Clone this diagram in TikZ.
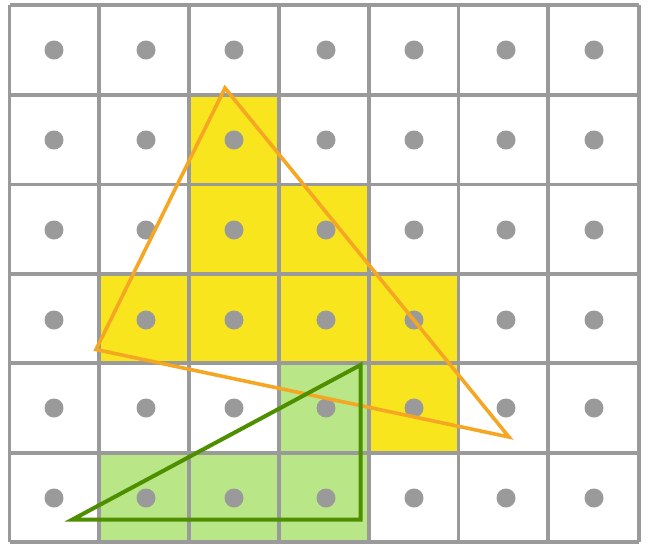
\documentclass[tikz,border=0pt]{standalone}
\usepackage{tikz}
\definecolor{gridgray}{HTML}{9A9A9A}
\definecolor{cellyellow}{HTML}{F8E51E}
\definecolor{cellgreen}{HTML}{B9E787}
\definecolor{triorange}{HTML}{F5A623}
\definecolor{trigreen}{HTML}{4E8F00}
\tikzset{
  gridline/.style={draw=gridgray, line width=3.8pt},
  dotmark/.style={fill=gridgray},
  yellowcell/.style={fill=cellyellow},
  greencell/.style={fill=cellgreen},
  orangetri/.style={draw=triorange, line width=3.6pt, line join=miter},
  greentri/.style={draw=trigreen, line width=4pt, line join=miter},
}
\begin{document}
\begin{tikzpicture}[x=1pt,y=-1pt]
\useasboundingbox (0,0) rectangle (651,550);
\fill[white] (0,0) rectangle (651,550);
\def\XA{9.5}\def\XB{98.7}\def\XC{188.7}\def\XD{278.8}\def\XE{368.7}\def\XF{458.4}\def\XG{548.3}\def\XH{638.7}
\def\YA{5.3}\def\YB{95}\def\YC{184.5}\def\YD{274}\def\YE{363.3}\def\YF{452.7}\def\YG{542.3}
% yellow cells
\path[yellowcell] (\XC,\YB) rectangle (\XD,\YC);
\path[yellowcell] (\XC,\YC) rectangle (\XE,\YD);
\path[yellowcell] (\XB,\YD) rectangle (\XF,\YE);
\path[yellowcell] (\XE,\YE) rectangle (\XF,\YF);
% green cells
\path[greencell] (\XD,\YE) rectangle (\XE,\YF);
\path[greencell] (\XB,\YF) rectangle (\XE,\YG);
% grid
\foreach \x in {\XA,\XB,\XC,\XD,\XE,\XF,\XG,\XH}
  \draw[gridline] (\x,\YA) -- (\x,\YG);
\foreach \y in {\YA,\YB,\YC,\YD,\YE,\YF,\YG}
  \draw[gridline] (\XA,\y) -- (\XH,\y);
% dots
\foreach \x in {54,146,234,326,414,506,594}
  \foreach \y in {50,140,230,320,408,498}
    \fill[dotmark] (\x,\y) circle (9.5);
% triangles
\coordinate (oa) at (225,88);
\coordinate (ob) at (96,349.5);
\coordinate (oc) at (509,437);
\draw[orangetri] (oa) -- (ob) -- (oc) -- cycle;
\coordinate (ga) at (72.5,519.5);
\coordinate (gb) at (360.5,365);
\coordinate (gc) at (360.5,519.5);
\draw[greentri] (ga) -- (gb) -- (gc) -- cycle;
\end{tikzpicture}
\end{document}
